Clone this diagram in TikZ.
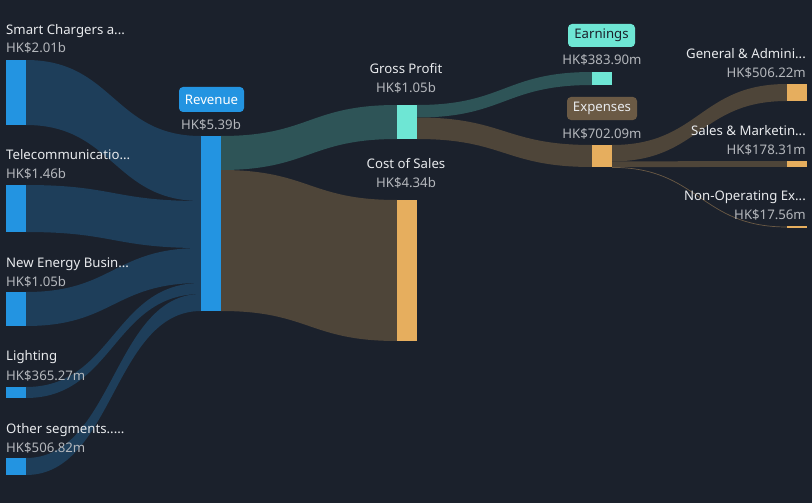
\documentclass[tikz,border=0pt]{standalone}
\usepackage{fontspec}
\setmainfont{Noto Sans}
\definecolor{bg}{HTML}{1B212C}
\definecolor{bluebar}{HTML}{2394E1}
\definecolor{blueflow}{HTML}{1E3E5A}
\definecolor{tealbar}{HTML}{6EE6D4}
\definecolor{tealflow}{HTML}{2E5457}
\definecolor{orangebar}{HTML}{E6AE5E}
\definecolor{brownflow}{HTML}{4E4539}
\definecolor{expbox}{HTML}{6B5A45}
\definecolor{txtw}{HTML}{E8EAED}
\definecolor{txtg}{HTML}{B4B7BC}
\newcommand\flowband[7]{%
  \fill[#7] (#1,#2) .. controls ({(#1+#4)/2},#2) and ({(#1+#4)/2},#5) .. (#4,#5)
    -- (#4,#6) .. controls ({(#1+#4)/2},#6) and ({(#1+#4)/2},#3) .. (#1,#3) -- cycle;}
\tikzset{
  bar/.style={inner sep=0pt, minimum width=20pt, draw=none},
  lbl/.style={inner sep=0pt, text=txtw, font=\fontsize{13.2}{15}\selectfont},
  val/.style={inner sep=0pt, text=txtg, font=\fontsize{13.2}{15}\selectfont},
  tagbox/.style={inner sep=0pt, rounded corners=4pt, font=\fontsize{13.2}{15}\selectfont}
}
\begin{document}
\begin{tikzpicture}[x=1pt,y=-1pt]
\useasboundingbox (0,0) rectangle (812,503);
\fill[bg] (0,0) rectangle (812,503);
% flows into revenue
\flowband{26}{60}{125}{201}{136}{201}{blueflow}
\flowband{26}{185}{232}{201}{201}{248}{blueflow}
\flowband{26}{292}{326}{201}{248}{283}{blueflow}
\flowband{26}{387}{398}{201}{283}{294}{blueflow}
\flowband{26}{458}{475}{201}{294}{311}{blueflow}
% revenue to GP / CoS
\flowband{221}{136}{170}{397}{105}{139}{tealflow}
\flowband{221}{170}{311}{397}{200}{341}{brownflow}
% GP to earnings / expenses
\flowband{417}{105}{117.5}{592}{72}{85}{tealflow}
\flowband{417}{117.5}{139}{592}{145}{167}{brownflow}
% expenses to right
\flowband{612}{145}{161.4}{787}{84}{101}{brownflow}
\flowband{612}{161.4}{167.2}{787}{161}{166.8}{brownflow}
\draw[expbox, line width=0.7pt] (612,167.4) .. controls (699.5,167.4) and (699.5,227) .. (787,227);
% bars
\node[bar, fill=bluebar, minimum height=65pt] (sc) at (16,92.5) {};
\node[bar, fill=bluebar, minimum height=47pt] (tel) at (16,208.5) {};
\node[bar, fill=bluebar, minimum height=34pt] (ne) at (16,309) {};
\node[bar, fill=bluebar, minimum height=11pt] (li) at (16,392.5) {};
\node[bar, fill=bluebar, minimum height=17pt] (ot) at (16,466.5) {};
\node[bar, fill=bluebar, minimum height=175pt] (rev) at (211,223.5) {};
\node[bar, fill=tealbar, minimum height=34pt] (gp) at (407,122) {};
\node[bar, fill=orangebar, minimum height=141pt] (cos) at (407,270.5) {};
\node[bar, fill=tealbar, minimum height=13pt] (earn) at (602,78.5) {};
\node[bar, fill=orangebar, minimum height=22pt] (exp) at (602,156) {};
\node[bar, fill=orangebar, minimum height=17pt] (ga) at (797,92.5) {};
\node[bar, fill=orangebar, minimum height=5.8pt] (sm) at (797,163.9) {};
\node[bar, fill=orangebar, minimum height=1.5pt] (no) at (797,227) {};
% left labels
\node[lbl, anchor=base west] (scl) at (6,34.5) {Smart Chargers a...};
\node[val, anchor=base west] (scv) at (6,52.7) {HK\$2.01b};
\node[lbl, anchor=base west] (tell) at (6,159.5) {Telecommunicatio...};
\node[val, anchor=base west] (telv) at (6,178) {HK\$1.46b};
\node[lbl, anchor=base west] (nel) at (6,267.3) {New Energy Busin...};
\node[val, anchor=base west] (nev) at (6,286.7) {HK\$1.05b};
\node[lbl, anchor=base west] (lil) at (6,360.7) {Lighting};
\node[val, anchor=base west] (liv) at (6,380) {HK\$365.27m};
\node[lbl, anchor=base west] (otl) at (6,433.7) {Other segments.....};
\node[val, anchor=base west] (otv) at (6,452.3) {HK\$506.82m};
% revenue
\node[tagbox, fill=bluebar, text=white, minimum width=65pt, minimum height=25pt] (revl) at (211.5,99.5) {Revenue};
\node[val, anchor=base] (revv) at (211,129.3) {HK\$5.39b};
% GP, CoS
\node[lbl, anchor=base] (gpl) at (406,73.3) {Gross Profit};
\node[val, anchor=base] (gpv) at (406,92.7) {HK\$1.05b};
\node[lbl, anchor=base] (cosl) at (406,168) {Cost of Sales};
\node[val, anchor=base] (cosv) at (406,187.3) {HK\$4.34b};
% earnings, expenses
\node[tagbox, fill=tealbar, text=bg, minimum width=67pt, minimum height=23pt] (earnl) at (601.5,35.5) {Earnings};
\node[val, anchor=base] (earnv) at (602,65) {HK\$383.90m};
\node[tagbox, fill=expbox, text=txtw, minimum width=70pt, minimum height=23pt] (expl) at (602,108.5) {Expenses};
\node[val, anchor=base] (expv) at (602,138.3) {HK\$702.09m};
% right labels
\node[lbl, anchor=base east] (gal) at (806,58.7) {General \& Admini...};
\node[val, anchor=base east] (gav) at (806,77.3) {HK\$506.22m};
\node[lbl, anchor=base east] (sml) at (806,135.3) {Sales \& Marketin...};
\node[val, anchor=base east] (smv) at (806,154) {HK\$178.31m};
\node[lbl, anchor=base east] (nol) at (806,200.3) {Non-Operating Ex...};
\node[val, anchor=base east] (nov) at (806,219) {HK\$17.56m};
\end{tikzpicture}
\end{document}
